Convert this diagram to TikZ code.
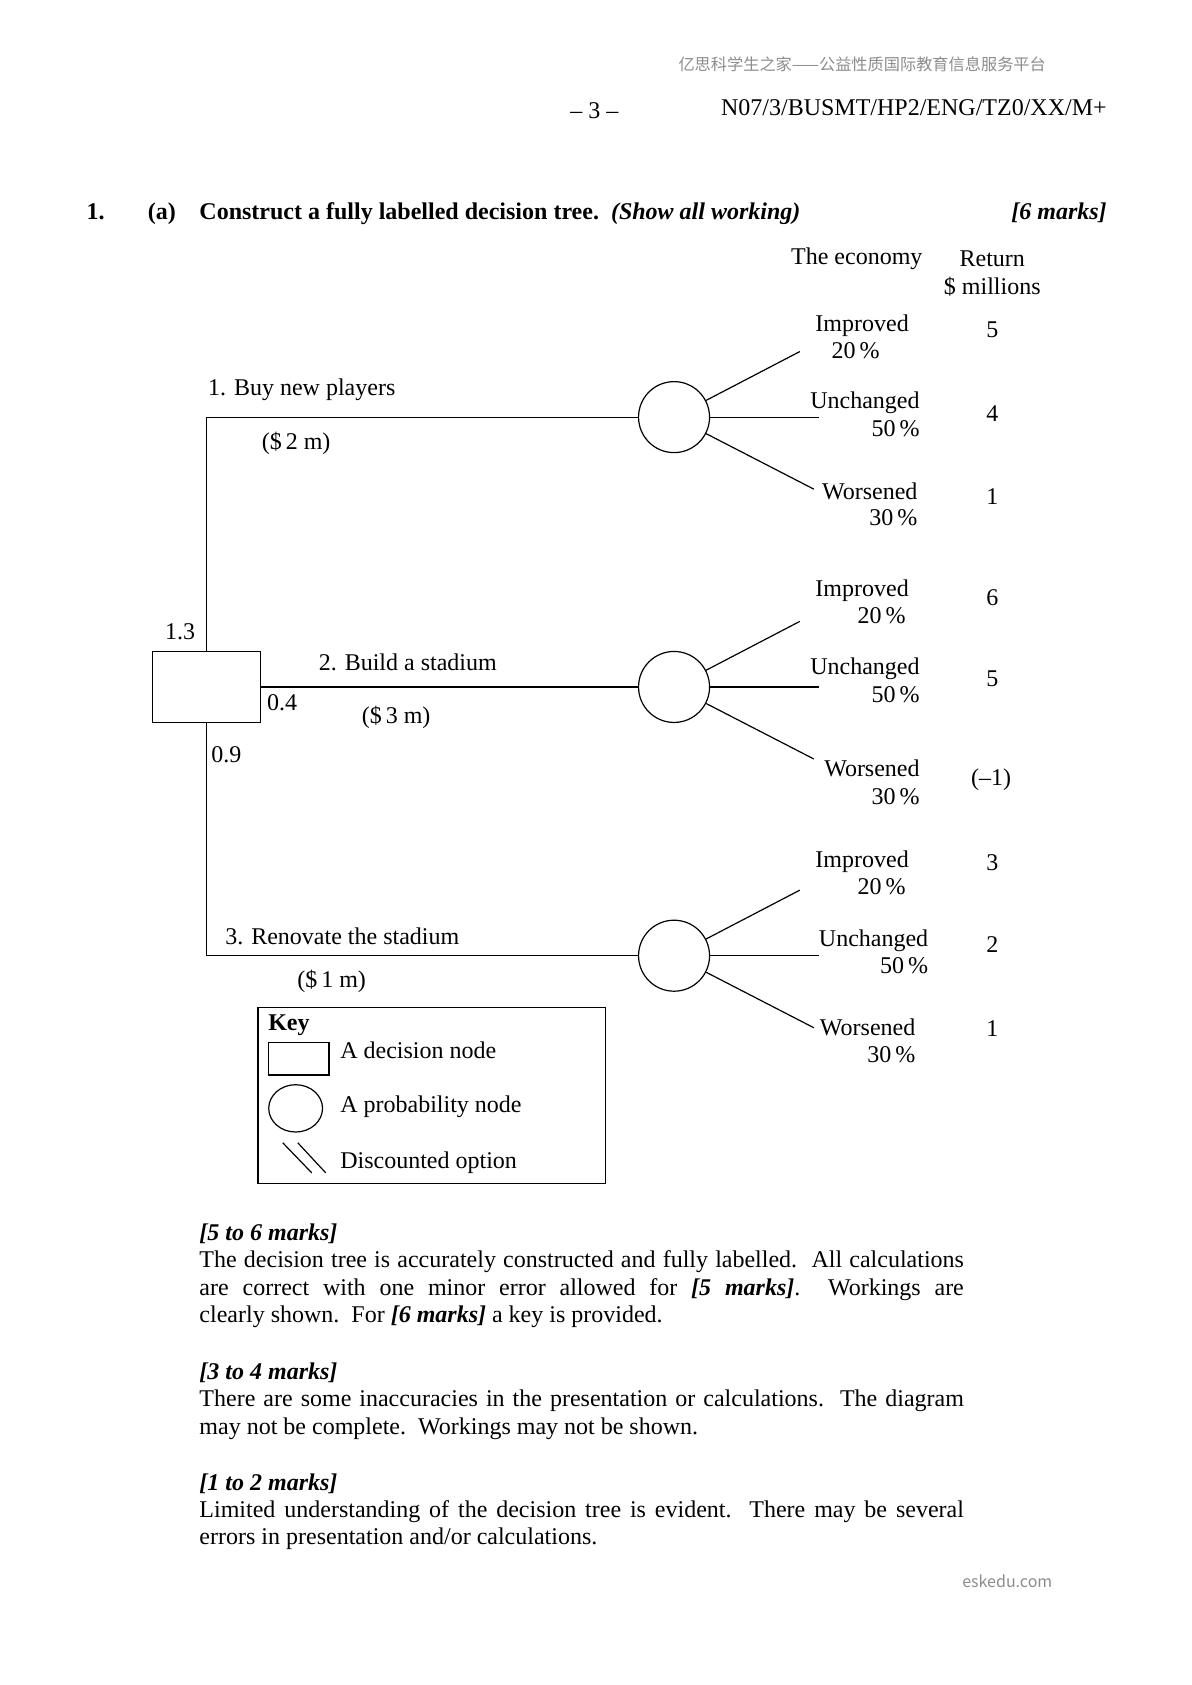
\documentclass[tikz,border=0pt]{standalone}
\usepackage{fontspec}
\setmainfont{Liberation Serif}
\newfontfamily\cjk{Noto Sans CJK SC}
\usetikzlibrary{shapes.geometric}
\definecolor{wmgray}{RGB}{140,140,140}
\begin{document}
\begin{tikzpicture}[x=0.5375pt,y=-0.5375pt,line width=0.6pt,
  base/.style={inner sep=0pt,font=\fontsize{12}{13.7}\selectfont},
  txt/.style={base,yshift=-1.6pt},
  bld/.style={txt,font=\fontsize{12}{13.7}\selectfont\bfseries},
  wm/.style={inner sep=0pt,text=wmgray,font=\cjk\fontsize{8.1}{10}\selectfont},
  decbox/.style={draw,rectangle,inner sep=0pt,minimum width=53.75pt,minimum height=35.5pt},
  probnode/.style={draw,circle,inner sep=0pt,minimum size=35.5pt},
  para/.style={base,text width=382.2pt,align=justify,anchor=base west,
    execute at begin node={\hyphenpenalty=10000 \exhyphenpenalty=10000 }}]
\useasboundingbox (0,0) rectangle (1108,1567.4);
% header
\node[wm] (wmtop) at (802,60) {亿思科学生之家——公益性质国际教育信息服务平台};
\node[txt] (pg) at (553,100) {-- 3 --};
\node[txt,anchor=mid east] (code) at (1030,100) {N07/3/BUSMT/HP2/ENG/TZ0/XX/M+};
% title
\node[bld,anchor=mid west] (qn) at (80,197) {1.};
\node[bld,anchor=mid west] (qa) at (137,197) {(a)};
\node[bld,anchor=mid west] (qt) at (185,197) {Construct a fully labelled decision tree.\ \ \textit{(Show all working)}};
\node[bld,anchor=mid east] (qm) at (1030,197) {\textit{[6 marks]}};
\node[txt] (econ) at (797,238) {The economy};
\node[txt] (ret) at (923,238) {Return};
\node[txt] (mil) at (923,264) {\$ millions};
% tree
\node[decbox] (dec) at (192,639) {};
\node[probnode] (c1) at (627,388) {};
\node[probnode] (c2) at (627,639) {};
\node[probnode] (c3) at (627,889) {};
\coordinate (j1) at (192,388);
\coordinate (j3) at (192,889);
\draw (dec.north) -- (j1) -- (c1);
\draw (dec.east) -- (c2);
\draw (dec.south) -- (j3) -- (c3);
\foreach \c/\y in {c1/388,c2/639,c3/889}{
  \coordinate (\c u) at (744,\y-61);
  \coordinate (\c m) at (762,\y);
  \coordinate (\c d) at (757,\y+67);
  \draw (\c) -- (\c u);
  \draw (\c) -- (\c m);
  \draw (\c) -- (\c d);
}
% left labels
\node[txt,anchor=mid west] (l1) at (193,361) {1. Buy new players};
\node[txt,anchor=mid west] (k1) at (243,411) {(\$\,2 m)};
\node[txt,anchor=mid west] (v13) at (153,588) {1.3};
\node[txt,anchor=mid west] (l2) at (296,616) {2. Build a stadium};
\node[txt,anchor=mid west] (v04) at (248,654) {0.4};
\node[txt,anchor=mid west] (k2) at (336,666) {(\$\,3 m)};
\node[txt,anchor=mid west] (v09) at (196,702) {0.9};
\node[txt,anchor=mid west] (l3) at (209,871) {3. Renovate the stadium};
\node[txt,anchor=mid west] (k3) at (276,911) {(\$\,1 m)};
% outcome labels, circle 1
\node[txt,anchor=mid west] (i1) at (758,301) {Improved};
\node[txt,anchor=mid west] (i1p) at (773,326) {20\,\%};
\node[txt,anchor=mid east] (u1) at (856,373) {Unchanged};
\node[txt,anchor=mid east] (u1p) at (856,399) {50\,\%};
\node[txt,anchor=mid east] (w1) at (854,457) {Worsened};
\node[txt,anchor=mid east] (w1p) at (854,482) {30\,\%};
\node[base] (r11) at (923,307) {5};
\node[base] (r12) at (923,385) {4};
\node[base] (r13) at (923,462) {1};
% circle 2
\node[txt,anchor=mid west] (i2) at (758,548) {Improved};
\node[txt,anchor=mid east] (i2p) at (843,573) {20\,\%};
\node[txt,anchor=mid east] (u2) at (856,620) {Unchanged};
\node[txt,anchor=mid east] (u2p) at (856,646) {50\,\%};
\node[txt,anchor=mid east] (w2) at (856,715) {Worsened};
\node[txt,anchor=mid east] (w2p) at (856,741) {30\,\%};
\node[base] (r21) at (923,556) {6};
\node[base] (r22) at (923,631) {5};
\node[base] (r23) at (922,725) {(--1)};
% circle 3
\node[txt,anchor=mid west] (i3) at (758,800) {Improved};
\node[txt,anchor=mid east] (i3p) at (843,825) {20\,\%};
\node[txt,anchor=mid east] (u3) at (864,873) {Unchanged};
\node[txt,anchor=mid east] (u3p) at (864,898) {50\,\%};
\node[txt,anchor=mid east] (w3) at (852,956) {Worsened};
\node[txt,anchor=mid east] (w3p) at (852,981) {30\,\%};
\node[base] (r31) at (923,802) {3};
\node[base] (r32) at (923,879) {2};
\node[base] (r33) at (923,957) {1};
% key
\node[draw,rectangle,inner sep=0pt,minimum width=173.6pt,minimum height=88.15pt] (keybox) at (401.5,1019) {};
\node[bld,anchor=mid west] (keyt) at (249,951) {Key};
\node[draw,rectangle,inner sep=0pt,minimum width=30.1pt,minimum height=16.1pt] (krect) at (278,985) {};
\node[txt,anchor=mid west] (kr) at (316,977) {A decision node};
\node[draw,ellipse,inner sep=0pt,minimum width=26.9pt,minimum height=23.65pt] (kell) at (275,1031) {};
\node[txt,anchor=mid west] (ke) at (316,1028) {A probability node};
\coordinate (d1a) at (263,1063); \coordinate (d1b) at (290,1091);
\coordinate (d2a) at (277,1063); \coordinate (d2b) at (303,1091);
\draw (d1a) -- (d1b);
\draw (d2a) -- (d2b);
\node[txt,anchor=mid west] (kd) at (316,1080) {Discounted option};
% marking notes
\node[para] (p1) at (185,1154) {\textbf{\textit{[5 to 6 marks]}}\\ The decision tree is accurately constructed and fully labelled.\ \ All calculations\linebreak are correct with one minor error allowed for \textbf{\textit{[5 marks]}}.\ \ Workings are\linebreak clearly shown.\ \ For \textbf{\textit{[6 marks]}} a key is provided.};
\node[para] (p2) at (185,1283) {\textbf{\textit{[3 to 4 marks]}}\\ There are some inaccuracies in the presentation or calculations.\ \ The diagram\linebreak may not be complete.\ \ Workings may not be shown.};
\node[para] (p3) at (185,1386) {\textbf{\textit{[1 to 2 marks]}}\\ Limited understanding of the decision tree is evident.\ \ There may be several\linebreak errors in presentation and/or calculations.};
\node[wm,font=\cjk\fontsize{8}{9}\selectfont] (wmbot) at (937,1471) {eskedu.com};
\end{tikzpicture}
\end{document}
